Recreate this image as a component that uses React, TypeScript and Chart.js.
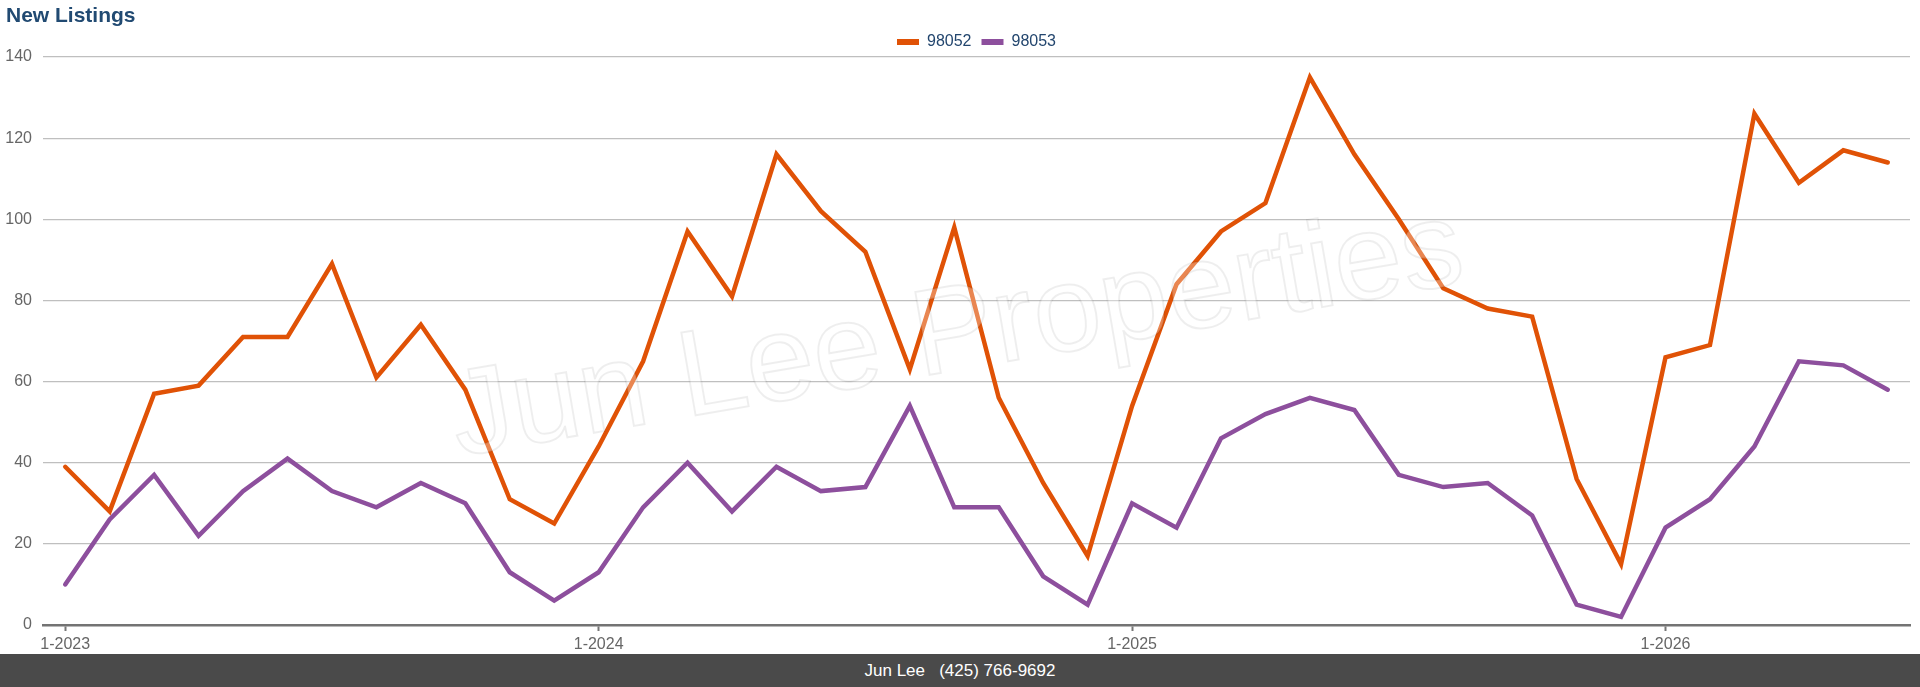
import React, { useEffect, useRef } from "react";
import { Chart, registerables } from "chart.js";

Chart.register(...registerables);

const monthLabels = [
  "1-2023", "2-2023", "3-2023", "4-2023", "5-2023", "6-2023", "7-2023", "8-2023", "9-2023", "10-2023", "11-2023", "12-2023",
  "1-2024", "2-2024", "3-2024", "4-2024", "5-2024", "6-2024", "7-2024", "8-2024", "9-2024", "10-2024", "11-2024", "12-2024",
  "1-2025", "2-2025", "3-2025", "4-2025", "5-2025", "6-2025", "7-2025", "8-2025", "9-2025", "10-2025", "11-2025", "12-2025",
  "1-2026", "2-2026", "3-2026", "4-2026", "5-2026", "6-2026",
];

const zip98052 = [
  39, 28, 57, 59, 71, 71, 89, 61, 74, 58, 31, 25,
  44, 65, 97, 81, 116, 102, 92, 63, 98, 56, 35, 17,
  54, 84, 97, 104, 135, 116, 100, 83, 78, 76, 36, 15,
  66, 69, 126, 109, 117, 114,
];

const zip98053 = [
  10, 26, 37, 22, 33, 41, 33, 29, 35, 30, 13, 6,
  13, 29, 40, 28, 39, 33, 34, 54, 29, 29, 12, 5,
  30, 24, 46, 52, 56, 53, 37, 34, 35, 27, 5, 2,
  24, 31, 44, 65, 64, 58,
];

const seriesNames = ["98052", "98053"];
const seriesColors = ["#e05206", "#8d4f9d"];

const titleText = "New Listings";
const footerText = "Jun Lee   (425) 766-9692";
const watermarkText = "Jun Lee Properties";

const FONT = '"Liberation Sans", Arial, Helvetica, sans-serif';

const isJanuary = (i: number) => {
  const l = monthLabels[i];
  return typeof l === "string" && l.startsWith("1-");
};

const watermarkPlugin = {
  id: "watermark",
  afterDatasetsDraw(chart: any) {
    const ctx = chart.ctx as CanvasRenderingContext2D;
    ctx.save();
    ctx.translate(963, 369);
    ctx.rotate((-9.8 * Math.PI) / 180);
    ctx.font = `122px ${FONT}`;
    ctx.textAlign = "center";
    ctx.textBaseline = "alphabetic";
    ctx.fillStyle = "rgba(255,255,255,0.3)";
    ctx.fillText(watermarkText, 0, 0);
    ctx.lineWidth = 2;
    ctx.strokeStyle = "rgba(0,0,0,0.065)";
    ctx.strokeText(watermarkText, 0, 0);
    ctx.restore();
  },
};

export default function App() {
  const canvasRef = useRef<HTMLCanvasElement | null>(null);

  useEffect(() => {
    if (!canvasRef.current) return;
    Chart.defaults.font.family = FONT;
    const chart = new Chart(canvasRef.current, {
      type: "line",
      data: {
        labels: monthLabels,
        datasets: [
          {
            label: seriesNames[0],
            data: zip98052,
            borderColor: seriesColors[0],
            backgroundColor: seriesColors[0],
            borderWidth: 4.5,
            pointRadius: 0,
            pointHoverRadius: 0,
            tension: 0,
            borderCapStyle: "round",
            borderJoinStyle: "miter",
          },
          {
            label: seriesNames[1],
            data: zip98053,
            borderColor: seriesColors[1],
            backgroundColor: seriesColors[1],
            borderWidth: 4.5,
            pointRadius: 0,
            pointHoverRadius: 0,
            tension: 0,
            borderCapStyle: "round",
            borderJoinStyle: "miter",
          },
        ],
      },
      options: {
        responsive: false,
        maintainAspectRatio: false,
        animation: false,
        devicePixelRatio: 1,
        layout: { padding: { top: 24, left: 6, right: 10, bottom: 1 } },
        plugins: {
          title: { display: false },
          tooltip: { enabled: false },
          legend: {
            display: true,
            position: "top",
            fullSize: false,
            maxHeight: 33,
            labels: {
              boxWidth: 22,
              boxHeight: 6,
              padding: 10,
              color: "#23466e",
              font: { size: 16, family: FONT },
              generateLabels: (c: any) =>
                Chart.defaults.plugins.legend.labels
                  .generateLabels(c)
                  .map((item: any) => ({ ...item, lineWidth: 0, fillStyle: item.strokeStyle })),
            },
          },
        },
        scales: {
          x: {
            type: "category",
            offset: true,
            afterFit: (scale: any) => {
              scale.height = 28;
            },
            grid: {
              display: true,
              drawOnChartArea: false,
              drawTicks: true,
              tickLength: 6,
              tickWidth: 2,
              tickColor: (ctx: any) => (isJanuary(ctx.index) ? "#777777" : "rgba(0,0,0,0)"),
              offset: false,
            },
            border: { display: true, color: "#737373", width: 2.5 },
            ticks: {
              autoSkip: false,
              maxRotation: 0,
              minRotation: 0,
              padding: 4,
              color: "#666666",
              font: { size: 16, family: FONT },
              callback: (_v: any, index: number) => (isJanuary(index) ? monthLabels[index] : ""),
            },
          },
          y: {
            min: 0,
            max: 140,
            afterFit: (scale: any) => {
              scale.width = 37;
            },
            border: { display: false },
            grid: {
              drawTicks: false,
              lineWidth: 1.2,
              color: (ctx: any) => (ctx.tick && ctx.tick.value === 0 ? "rgba(0,0,0,0)" : "#bfbfbf"),
            },
            ticks: {
              stepSize: 20,
              padding: 11,
              color: "#666666",
              font: { size: 16, family: FONT },
            },
          },
        },
      },
      plugins: [watermarkPlugin],
    } as any);
    return () => chart.destroy();
  }, []);

  return (
    <div
      style={{
        position: "fixed",
        left: 0,
        top: 0,
        width: 1920,
        height: 687,
        background: "#ffffff",
        overflow: "hidden",
        fontFamily: FONT,
      }}
    >
      <canvas
        ref={canvasRef}
        width={1920}
        height={654}
        style={{ position: "absolute", left: 0, top: 0, width: 1920, height: 654 }}
      />
      <div
        style={{
          position: "absolute",
          left: 6,
          top: 4,
          fontSize: 21,
          lineHeight: "21px",
          fontWeight: "bold",
          color: "#214a72",
          whiteSpace: "nowrap",
        }}
      >
        {titleText}
      </div>
      <div
        style={{
          position: "absolute",
          left: 0,
          top: 654,
          width: 1920,
          height: 33,
          background: "#4a4a4a",
          color: "#ffffff",
          fontSize: 17,
          lineHeight: "33px",
          textAlign: "center",
          whiteSpace: "pre",
        }}
      >
        {footerText}
      </div>
    </div>
  );
}
